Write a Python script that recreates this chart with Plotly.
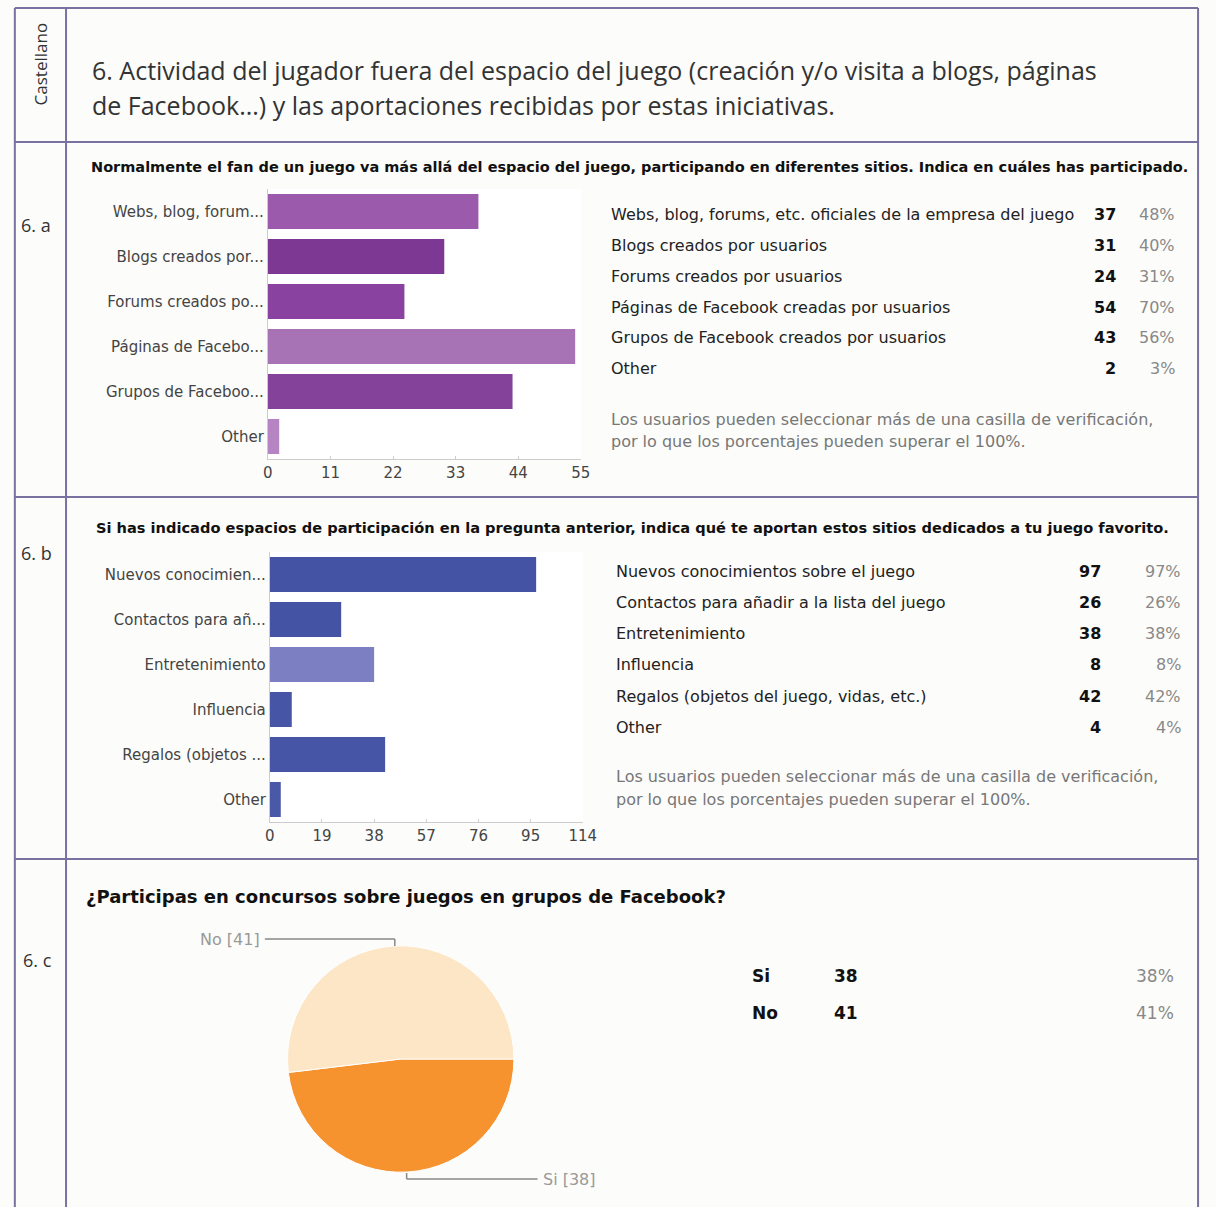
import plotly.graph_objects as go

W, H = 1216, 1207
def X(px): return px / W
def Y(py): return 1 - py / H

# ---------------- data ----------------
a_labels_full = ["Webs, blog, forums, etc. oficiales de la empresa del juego",
                 "Blogs creados por usuarios", "Forums creados por usuarios",
                 "Páginas de Facebook creadas por usuarios",
                 "Grupos de Facebook creados por usuarios", "Other"]
a_labels_short = ["Webs, blog, forum...", "Blogs creados por...", "Forums creados po...",
                  "Páginas de Facebo...", "Grupos de Faceboo...", "Other"]
a_values = [37, 31, 24, 54, 43, 2]
a_pcts = ["48%", "40%", "31%", "70%", "56%", "3%"]
a_ticks = [0, 11, 22, 33, 44, 55]
a_colors = ["#9b5aab", "#7c3893", "#8a42a1", "#a873b5", "#84429b", "#b683c3"]

b_labels_full = ["Nuevos conocimientos sobre el juego", "Contactos para añadir a la lista del juego",
                 "Entretenimiento", "Influencia", "Regalos (objetos del juego, vidas, etc.)", "Other"]
b_labels_short = ["Nuevos conocimien...", "Contactos para añ...", "Entretenimiento",
                  "Influencia", "Regalos (objetos ...", "Other"]
b_values = [97, 26, 38, 8, 42, 4]
b_pcts = ["97%", "26%", "38%", "8%", "42%", "4%"]
b_ticks = [0, 19, 38, 57, 76, 95, 114]
b_colors = ["#4453a3", "#4453a3", "#7c7fc2", "#4755a6", "#4755a6", "#4a58a8"]

c_labels = ["Si", "No"]
c_values = [38, 41]
c_pcts = ["38%", "41%"]
c_colors = ["#f7932f", "#fde6c6"]

title_lines = ["6. Actividad del jugador fuera del espacio del juego (creación y/o visita a blogs, páginas",
               "de Facebook...) y las aportaciones recibidas por estas iniciativas."]
q_a = "Normalmente el fan de un juego va más allá del espacio del juego, participando en diferentes sitios. Indica en cuáles has participado."
q_b = "Si has indicado espacios de participación en la pregunta anterior, indica qué te aportan estos sitios dedicados a tu juego favorito."
q_c = "¿Participas en concursos sobre juegos en grupos de Facebook?"
footnote = ["Los usuarios pueden seleccionar más de una casilla de verificación,",
            "por lo que los porcentajes pueden superar el 100%."]

SANS = "DejaVu Sans, Liberation Sans, Arial, sans-serif"
HEAD = "Open Sans, Lato, sans-serif"

fig = go.Figure()

fig.add_trace(go.Bar(x=a_values, y=a_labels_short, orientation="h",
                     marker=dict(color=a_colors, line=dict(width=0)),
                     xaxis="x", yaxis="y", hoverinfo="x+y", showlegend=False))
fig.add_trace(go.Bar(x=b_values, y=b_labels_short, orientation="h",
                     marker=dict(color=b_colors, line=dict(width=0)),
                     xaxis="x2", yaxis="y2", hoverinfo="x+y", showlegend=False))
fig.add_trace(go.Pie(labels=c_labels, values=c_values, sort=False, direction="clockwise",
                     rotation=90, marker=dict(colors=c_colors, line=dict(color="#ffffff", width=1)),
                     textinfo="none", showlegend=False,
                     domain=dict(x=[X(287), X(517)], y=[Y(1174), Y(944)])))

axis_common = dict(showgrid=False, zeroline=False, fixedrange=True)
tickfont = dict(family=SANS, size=15, color="#444")

fig.update_layout(
    width=W, height=H, margin=dict(l=0, r=0, t=0, b=0),
    paper_bgcolor="#fcfcfa", plot_bgcolor="#ffffff", bargap=0.22,
    xaxis=dict(domain=[X(267), X(585)], range=[0, 55], tickvals=a_ticks,
               showline=True, linecolor="#cccccc", ticks="inside", ticklen=3, tickcolor="#cccccc",
               tickfont=tickfont, anchor="y", **axis_common),
    yaxis=dict(domain=[Y(459), Y(189)], autorange="reversed", showline=True, linecolor="#cccccc",
               tickfont=tickfont, ticks="", anchor="x", **axis_common),
    xaxis2=dict(domain=[X(269), X(587)], range=[0, 114], tickvals=b_ticks,
                showline=True, linecolor="#cccccc", ticks="inside", ticklen=3, tickcolor="#cccccc",
                tickfont=tickfont, anchor="y2", **axis_common),
    yaxis2=dict(domain=[Y(822), Y(552)], autorange="reversed", showline=True, linecolor="#cccccc",
                tickfont=tickfont, ticks="", anchor="x2", **axis_common),
)

ann = []
def text(px, py, s, size=14, color="#222", anchor="left", family=SANS, bold=False, angle=0):
    if bold:
        s = "<b>" + s + "</b>"
    ann.append(dict(x=X(px), y=Y(py), xref="paper", yref="paper", text=s, showarrow=False,
                    xanchor=anchor, yanchor="middle", textangle=angle,
                    font=dict(family=family, size=size, color=color)))

# header
text(37, 64, "Castellano", size=17, color="#333", anchor="center", family=HEAD, angle=-90)
text(86, 70, title_lines[0], size=25, color="#333", family=HEAD)
text(86, 105, title_lines[1], size=25, color="#333", family=HEAD)
text(14, 225, "6. a", size=18, color="#333", family=HEAD)
text(14, 553, "6. b", size=18, color="#333", family=HEAD)
text(16, 960, "6. c", size=18, color="#333", family=HEAD)

# 6.a
text(85, 167, q_a, size=14.5, color="#111", bold=True)
rows_a = [214, 245, 276, 307, 338, 369]
for i, lab in enumerate(a_labels_full):
    text(614, rows_a[i], lab, size=16, color="#222")
    text(1131, rows_a[i], str(a_values[i]), size=16, color="#111", anchor="right", bold=True)
    text(1191, rows_a[i], a_pcts[i], size=16, color="#888", anchor="right")
text(614, 419, footnote[0], size=16, color="#777")
text(614, 441, footnote[1], size=16, color="#777")

# 6.b
text(90, 527, q_b, size=14.6, color="#111", bold=True)
rows_b = [571, 602, 633, 664, 696, 727]
for i, lab in enumerate(b_labels_full):
    text(619, rows_b[i], lab, size=16, color="#222")
    text(1115, rows_b[i], str(b_values[i]), size=16, color="#111", anchor="right", bold=True)
    text(1197, rows_b[i], b_pcts[i], size=16, color="#888", anchor="right")
text(619, 777, footnote[0], size=16, color="#777")
text(619, 799, footnote[1], size=16, color="#777")

# 6.c
text(80, 896, q_c, size=18, color="#111", bold=True)
rows_c = [976, 1013]
for i, lab in enumerate(c_labels):
    text(757, rows_c[i], lab, size=17, color="#111", bold=True)
    text(840, rows_c[i], str(c_values[i]), size=17, color="#111", bold=True)
    text(1190, rows_c[i], c_pcts[i], size=17, color="#888", anchor="right")
text(261, 939, f"{c_labels[1]} [{c_values[1]}]", size=16, color="#999", anchor="right")
text(545, 1179, f"{c_labels[0]} [{c_values[0]}]", size=16, color="#999", anchor="left")

shapes = []
def line(x0, y0, x1, y1, color="#77729f", width=2):
    shapes.append(dict(type="line", xref="paper", yref="paper", x0=X(x0), y0=Y(y0), x1=X(x1), y1=Y(y1),
                       line=dict(color=color, width=width)))

# pie leader lines
line(264, 939, 396, 939, color="#888", width=1.5)
line(396, 939, 396, 946, color="#888", width=1.5)
line(408, 1173, 408, 1179, color="#888", width=1.5)
line(408, 1179, 541, 1179, color="#888", width=1.5)

# table borders
line(10, 8, 1212, 8)
line(10, 8, 10, 1207)
line(62, 8, 62, 1207)
line(1212, 8, 1212, 1207)
line(10, 142, 1212, 142)
line(10, 497, 1212, 497)
line(10, 859, 1212, 859)

fig.update_layout(annotations=ann, shapes=shapes)
fig.write_html("out.html", config={"displayModeBar": False},
               post_script="document.body.style.margin='0';document.body.style.overflow='hidden';")
